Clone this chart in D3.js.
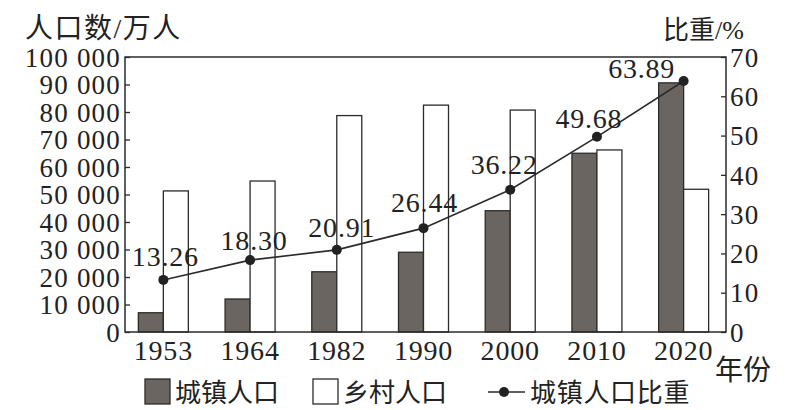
<!DOCTYPE html>
<html>
<head>
<meta charset="utf-8">
<script src="https://d3js.org/d3.v7.min.js"></script>
<style>
  body { margin: 0; background: #fff; }
  svg { display: block; }
  .num { font-family: "Liberation Serif", "Noto Sans CJK SC", serif; fill: #222; }
  .cjk { font-family: "Liberation Serif", "Noto Sans CJK SC", sans-serif; fill: #222; }
</style>
</head>
<body>
<div id="chart"></div>
<script>
  // chart data (万人, %)
  const years = ["1953", "1964", "1982", "1990", "2000", "2010", "2020"];
  const urbanPop = [7000, 12000, 21900, 29000, 44100, 65000, 90600];
  const ruralPop = [51300, 54900, 78700, 82500, 80700, 66200, 51900];
  const urbanShare = [13.26, 18.30, 20.91, 26.44, 36.22, 49.68, 63.89];
  const popTicks = [0, 10000, 20000, 30000, 40000, 50000, 60000, 70000, 80000, 90000, 100000];
  const shareTicks = [0, 10, 20, 30, 40, 50, 60, 70];

  const width = 793, height = 410;
  const plotL = 125, plotR = 726, plotT = 57, plotB = 332;

  const svg = d3.select("#chart").append("svg")
    .attr("width", width).attr("height", height);

  const x = d3.scaleBand().domain(years).range([120, 727]).padding(0);
  const barW = 25;
  const x1 = d3.scaleBand().domain(["urban", "rural"])
    .range([x.bandwidth() / 2 - barW, x.bandwidth() / 2 + barW]);
  const yPop = d3.scaleLinear().domain([0, 100000]).range([plotB, plotT]);
  const yShare = d3.scaleLinear().domain([0, 70]).range([plotB, plotT]);

  const fmt = v => d3.format(",")(v).replace(/,/g, " ");

  // bars
  const rows = years.map((y, i) => ({ year: y, urban: urbanPop[i], rural: ruralPop[i] }));
  const groups = svg.append("g").selectAll("g")
    .data(rows).enter().append("g")
    .attr("transform", d => `translate(${x(d.year)},0)`);

  groups.selectAll("rect")
    .data(d => ["urban", "rural"].map(k => ({ key: k, value: d[k] })))
    .enter().append("rect")
    .attr("x", d => x1(d.key))
    .attr("width", x1.bandwidth())
    .attr("y", d => yPop(d.value))
    .attr("height", d => plotB - yPop(d.value))
    .attr("fill", d => d.key === "urban" ? "#6a6560" : "#fff")
    .attr("stroke", "#2b2b2b")
    .attr("stroke-width", 1.3);

  // frame
  svg.append("rect")
    .attr("x", plotL).attr("y", plotT)
    .attr("width", plotR - plotL).attr("height", plotB - plotT)
    .attr("fill", "none").attr("stroke", "#2b2b2b").attr("stroke-width", 1.5);

  // left axis
  const axL = svg.append("g")
    .attr("transform", `translate(${plotL},0)`)
    .call(d3.axisLeft(yPop).tickValues(popTicks).tickSize(-5).tickPadding(6).tickFormat(fmt));
  axL.select(".domain").remove();
  axL.selectAll("line").attr("stroke", "#2b2b2b").attr("stroke-width", 1.3);
  axL.selectAll("text").attr("class", "num").attr("font-size", 27)
    .attr("letter-spacing", 1.2)
    .attr("x", -4).attr("dy", "0.34em");

  // right axis
  const axR = svg.append("g")
    .attr("transform", `translate(${plotR},0)`)
    .call(d3.axisRight(yShare).tickValues(shareTicks).tickSize(-5).tickPadding(6));
  axR.select(".domain").remove();
  axR.selectAll("line").attr("stroke", "#2b2b2b").attr("stroke-width", 1.3);
  axR.selectAll("text").attr("class", "num").attr("font-size", 27)
    .attr("letter-spacing", 1.2)
    .attr("x", 4).attr("dy", "0.34em");

  // bottom axis labels
  const axB = svg.append("g")
    .attr("transform", `translate(0,${plotB})`)
    .call(d3.axisBottom(x).tickSize(0).tickPadding(0));
  axB.select(".domain").remove();
  axB.selectAll("text").attr("class", "num").attr("font-size", 28)
    .attr("letter-spacing", 0.8)
    .attr("y", 28).attr("dy", 0);

  // share line
  const pts = years.map((y, i) => ({ year: y, v: urbanShare[i] }));
  const cx = d => x(d.year) + x.bandwidth() / 2;
  svg.append("path")
    .datum(pts)
    .attr("d", d3.line().x(cx).y(d => yShare(d.v)))
    .attr("fill", "none").attr("stroke", "#2b2b2b").attr("stroke-width", 1.6);
  svg.append("g").selectAll("circle")
    .data(pts).enter().append("circle")
    .attr("cx", cx).attr("cy", d => yShare(d.v)).attr("r", 5)
    .attr("fill", "#222");

  // value labels, nudged like the print
  const labelDx = [2, 4, 5, 1, -6, -8, -42];
  const labelDy = [-14, -10, -13, -16, -16, -9, -3];
  svg.append("g").selectAll("text")
    .data(pts).enter().append("text")
    .attr("class", "num").attr("font-size", 28)
    .attr("letter-spacing", 0.8)
    .attr("text-anchor", "middle")
    .attr("x", (d, i) => cx(d) + labelDx[i])
    .attr("y", (d, i) => yShare(d.v) + labelDy[i])
    .text(d => d.v.toFixed(2));

  // titles
  svg.append("text").attr("class", "cjk").attr("font-size", 28)
    .attr("x", 25).attr("y", 38).attr("letter-spacing", 1.5)
    .text("人口数/万人");
  svg.append("text").attr("class", "cjk").attr("font-size", 26)
    .attr("x", 663).attr("y", 39)
    .text("比重/%");
  svg.append("text").attr("class", "cjk").attr("font-size", 28)
    .attr("x", 715).attr("y", 380)
    .text("年份");

  // legend
  const lg = svg.append("g").attr("transform", "translate(0,392)");
  lg.append("rect").attr("x", 145).attr("y", -13).attr("width", 25).attr("height", 25)
    .attr("fill", "#6a6560").attr("stroke", "#2b2b2b").attr("stroke-width", 1.3);
  lg.append("text").attr("class", "cjk").attr("font-size", 26)
    .attr("x", 175).attr("y", 10).text("城镇人口");
  lg.append("rect").attr("x", 313).attr("y", -13).attr("width", 25).attr("height", 25)
    .attr("fill", "#fff").attr("stroke", "#2b2b2b").attr("stroke-width", 1.3);
  lg.append("text").attr("class", "cjk").attr("font-size", 26)
    .attr("x", 343).attr("y", 10).text("乡村人口");
  lg.append("line").attr("x1", 488).attr("x2", 525).attr("y1", 0).attr("y2", 0)
    .attr("stroke", "#2b2b2b").attr("stroke-width", 1.6);
  lg.append("circle").attr("cx", 504).attr("cy", 0).attr("r", 5).attr("fill", "#222");
  lg.append("text").attr("class", "cjk").attr("font-size", 26)
    .attr("x", 530).attr("y", 10).attr("letter-spacing", 0.7).text("城镇人口比重");
</script>
</body>
</html>
